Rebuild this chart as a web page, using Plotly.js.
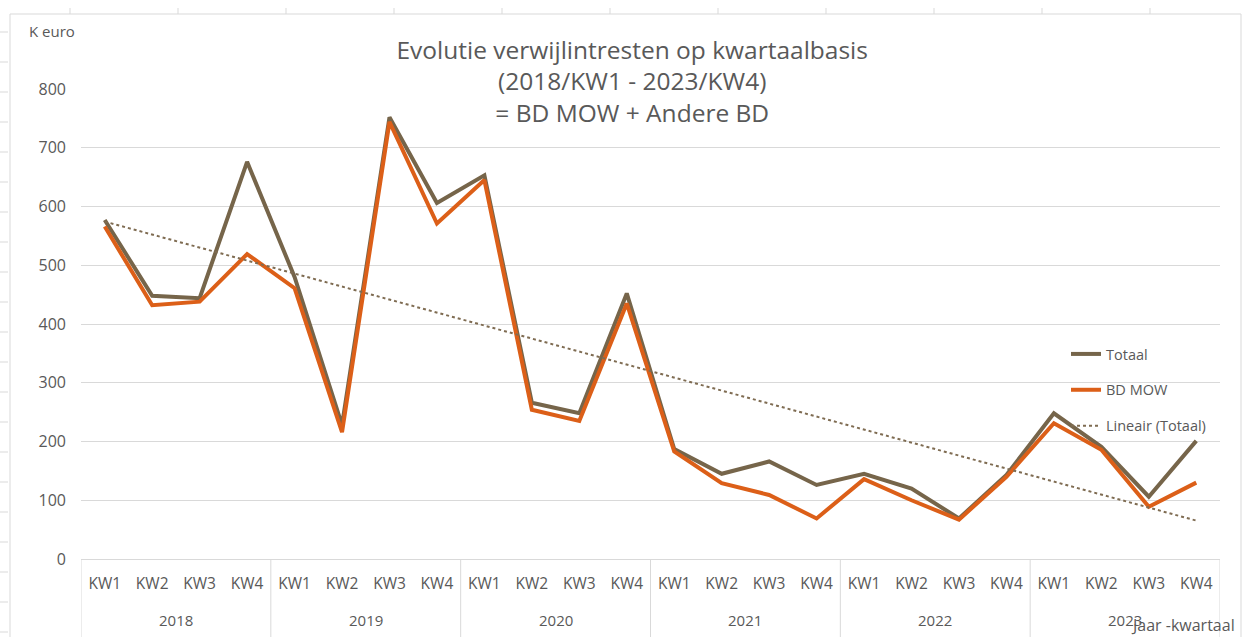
<!DOCTYPE html>
<html>
<head>
<meta charset="utf-8">
<script src="https://cdn.plot.ly/plotly-3.0.1.min.js"></script>
<style>
html,body{margin:0;padding:0;background:#fff;}
#chart{width:1247px;height:637px;}
</style>
</head>
<body>
<div id="chart"></div>
<script>
// ---- data ----
const years = ['2018','2019','2020','2021','2022','2023'];
const quarters = ['KW1','KW2','KW3','KW4'];
const totaal = [577, 448, 444, 676,  480, 228, 752, 606,  653, 266, 248, 452,
                187, 145, 166, 126,  145, 120, 69, 143,   248, 191, 106, 201];
const bdMow  = [566, 432, 438, 519,  461, 216, 744, 571,  645, 254, 235, 435,
                183, 129, 109, 69,   136, 100, 67, 140,   231, 186, 89, 130];

// ---- categories (unique ids) and their quarter labels ----
const cats = [], catLabels = [];
years.forEach(y => quarters.forEach(q => { cats.push(y + ' ' + q); catLabels.push(q); }));

// linear trendline (least squares) of Totaal
const n = totaal.length;
let sx=0, sy=0, sxy=0, sxx=0;
for (let i=0;i<n;i++){ const xi=i+1; sx+=xi; sy+=totaal[i]; sxy+=xi*totaal[i]; sxx+=xi*xi; }
const slope = (n*sxy - sx*sy)/(n*sxx - sx*sx);
const icpt = (sy - slope*sx)/n;
const trend = totaal.map((_,i)=> icpt + slope*(i+1));

const gray = '#595959';
const grid = '#d9d9d9';
const fontFam = '"Open Sans", "Noto Sans", sans-serif';

const traces = [
  {x:cats, y:totaal, type:'scatter', mode:'lines', name:'Totaal', legendgroup:'a',
   line:{color:'#76654a', width:4}},
  {x:cats, y:bdMow, type:'scatter', mode:'lines', name:'BD MOW', legendgroup:'b',
   line:{color:'#dc5f18', width:4}},
  {x:cats, y:trend, type:'scatter', mode:'lines', name:'Lineair (Totaal)', legendgroup:'c',
   line:{color:'#7f6c52', width:2, dash:'dot'}}
];

// plot-area pixel geometry helpers (for decorative frame only)
const L=81, R=1220, T=89, B=559;
const px = v => (v-L)/(R-L);
const py = v => (B-v)/(B-T);

const annotations = [
  {text:'K euro', xref:'paper', yref:'paper', x:px(27), y:py(31), xanchor:'left', yanchor:'middle',
   showarrow:false, font:{size:15, color:gray}},
  {text:'Jaar -kwartaal', xref:'paper', yref:'paper', x:px(1237), y:py(625), xanchor:'right', yanchor:'middle',
   showarrow:false, font:{size:16, color:gray}}
];
years.forEach((y,k) => annotations.push({
  text:y, xref:'x', yref:'paper', x:1.5 + 4*k, y:py(620), xanchor:'center', yanchor:'middle',
  showarrow:false, font:{size:15, color:gray}
}));

const shapes = [
  {type:'rect', xref:'paper', yref:'paper', x0:px(10), x1:px(1241), y0:py(700), y1:py(14),
   line:{color:grid, width:1}, fillcolor:'rgba(0,0,0,0)', layer:'below'}
];
for (let k=0;k<=years.length;k++){
  shapes.push({type:'line', xref:'x', yref:'paper', x0:-0.5+4*k, x1:-0.5+4*k, y0:0, y1:py(637),
               line:{color:grid, width:1}});
}
// spreadsheet edge marks (decorative)
for (let yy=32; yy<637; yy+=30){
  shapes.push({type:'line', xref:'paper', yref:'paper', x0:px(0), x1:px(8), y0:py(yy), y1:py(yy), line:{color:grid, width:1}});
}
for (let xx=70; xx<1247; xx+=108){
  shapes.push({type:'line', xref:'paper', yref:'paper', x0:px(xx), x1:px(xx), y0:py(8), y1:py(14), line:{color:grid, width:1}});
}

const layout = {
  width:1247, height:637,
  margin:{l:L, r:1247-R, t:T, b:637-B},
  paper_bgcolor:'#fff', plot_bgcolor:'#fff',
  font:{family:fontFam, color:gray, size:14},
  title:{text:'Evolutie verwijlintresten op kwartaalbasis<br>(2018/KW1 - 2023/KW4)<br>= BD MOW + Andere BD',
         font:{family:fontFam, size:24.5, color:gray}, x:0.507, xanchor:'center',
         y:0.908, yanchor:'top', yref:'container'},
  xaxis:{type:'category', range:[-0.5, 23.5], showgrid:false, showline:true, linecolor:grid, linewidth:1,
         tickvals:cats, ticktext:catLabels, tickfont:{size:15.5, color:gray},
         ticks:'', ticklabelstandoff:10, zeroline:false},
  yaxis:{range:[0,800], dtick:100, showgrid:true, gridcolor:grid, gridwidth:1,
         zeroline:false, showline:false, ticks:'', tickfont:{size:16, color:gray}, ticklabelstandoff:14},
  showlegend:true,
  legend:{x:px(1066), y:py(338), xanchor:'left', yanchor:'top', bgcolor:'rgba(0,0,0,0)',
          font:{size:14.5, color:gray}, tracegroupgap:14},
  annotations:annotations,
  shapes:shapes
};

Plotly.newPlot('chart', traces, layout, {displayModeBar:false, staticPlot:true});
</script>
</body>
</html>
